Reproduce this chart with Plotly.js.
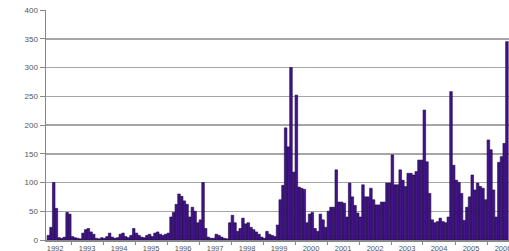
<!DOCTYPE html>
<html><head><meta charset="utf-8">
<script src="https://cdn.plot.ly/plotly-3.0.1.min.js"></script>
<style>html,body{margin:0;padding:0;overflow:hidden;background:#fff;width:509px;height:251px}#chart{width:516px;height:251px}</style>
</head><body><div id="chart"></div>
<script>
// monthly counts, first value = April 1992, last = August 2006
const firstYear = 1992;
const firstMonth = 4;
const values1992 = [8, 22, 100, 55, 4, 3, 5, 48, 45];
const values1993 = [6, 4, 3, 2, 12, 18, 20, 14, 10, 3, 2, 4];
const values1994 = [3, 6, 12, 5, 3, 4, 10, 12, 6, 4, 8, 20];
const values1995 = [12, 8, 5, 4, 8, 10, 6, 12, 14, 10, 8, 10];
const values1996 = [12, 40, 48, 62, 80, 76, 68, 62, 40, 57, 50, 30];
const values1997 = [35, 100, 20, 5, 3, 3, 10, 8, 5, 3, 2, 30];
const values1998 = [43, 30, 15, 20, 38, 28, 30, 22, 18, 14, 10, 5];
const values1999 = [3, 15, 10, 8, 6, 26, 70, 95, 195, 162, 300, 118];
const values2000 = [252, 92, 90, 88, 30, 45, 48, 20, 15, 45, 35, 22];
const values2001 = [50, 57, 57, 122, 66, 66, 64, 40, 99, 75, 60, 47];
const values2002 = [40, 96, 75, 75, 90, 70, 61, 61, 66, 66, 99, 99];
const values2003 = [148, 96, 96, 122, 104, 93, 116, 116, 113, 119, 139, 139];
const values2004 = [226, 136, 81, 35, 30, 32, 38, 32, 30, 40, 258, 130];
const values2005 = [104, 100, 81, 34, 57, 75, 113, 87, 99, 93, 90, 70];
const values2006 = [174, 157, 87, 40, 135, 145, 168, 345];
const yTicks = [0, 50, 100, 150, 200, 250, 300, 350, 400];

const values = [].concat(values1992, values1993, values1994, values1995, values1996,
  values1997, values1998, values1999, values2000, values2001, values2002, values2003,
  values2004, values2005, values2006);
const months = values.map((v, i) => {
  const t = (firstMonth - 1) + i;
  const y = firstYear + Math.floor(t / 12);
  const m = (t % 12) + 1;
  return y + '-' + String(m).padStart(2, '0') + '-01';
});

const font = {family: 'Liberation Sans, Arial, sans-serif', size: 8, color: '#555'};
Plotly.newPlot('chart', [{
  type: 'bar', x: months, y: values,
  xperiod: 'M1', xperiodalignment: 'middle',
  marker: {color: '#43138c', line: {color: '#1c0842', width: 0.6}},
  hoverinfo: 'x+y'
}], {
  width: 516, height: 251,
  margin: {l: 46, r: 0, t: 10, b: 11},
  paper_bgcolor: '#fff', plot_bgcolor: '#fff',
  bargap: 0, showlegend: false, font: font,
  xaxis: {
    type: 'date', range: ['1992-03-20', '2006-11-28'],
    tick0: '1992-01-01', dtick: 'M12', tickformat: '%Y', ticklabelmode: 'period',
    ticks: 'outside', ticklen: 3, tickcolor: '#888', tickwidth: 1,
    ticklabelstandoff: -3,
    showgrid: false, showline: true, linecolor: '#888', linewidth: 1.5,
    tickfont: {family: font.family, size: 7.5, color: '#555'}, zeroline: false
  },
  yaxis: {
    range: [0, 400], tickvals: yTicks, ticktext: yTicks.map(String),
    ticks: 'outside', ticklen: 5, tickcolor: '#888',
    showgrid: true, gridcolor: '#a6a6a6', gridwidth: 1.5,
    showline: true, linecolor: '#888', linewidth: 1.5,
    tickfont: font, zeroline: false
  }
}, {staticPlot: true});
</script></body></html>
